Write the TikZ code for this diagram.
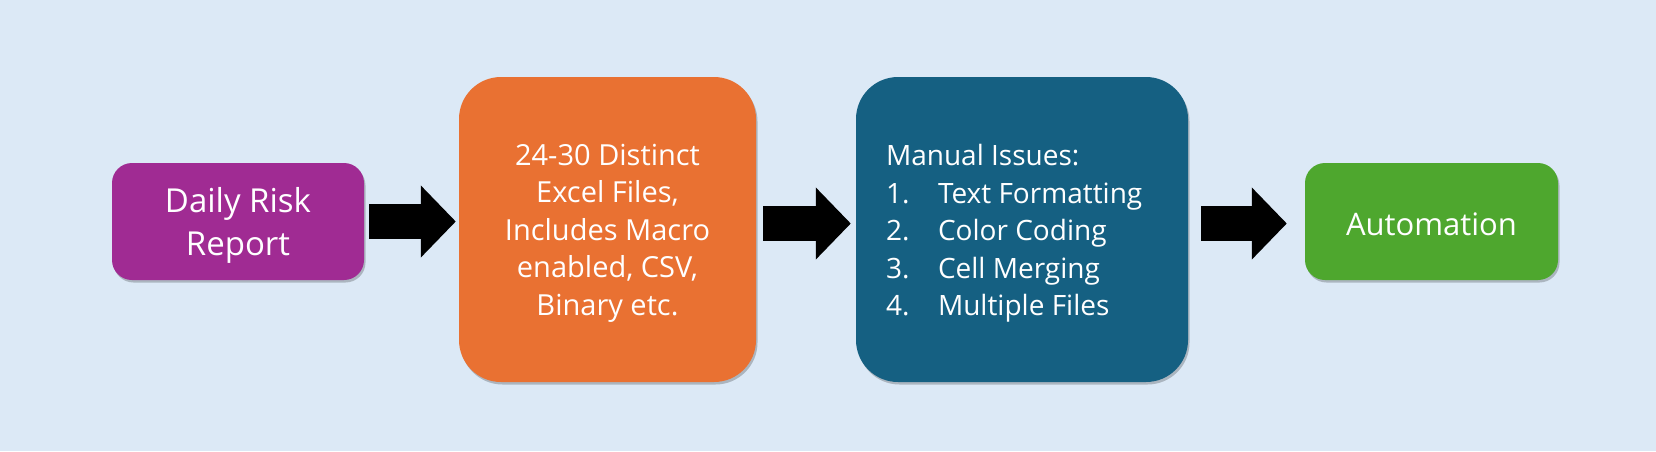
\documentclass[tikz,border=0pt]{standalone}
\usepackage{fontspec}
\setmainfont{Open Sans}
\usetikzlibrary{arrows.meta,shadows,calc}
\definecolor{bgc}{HTML}{DCE9F6}
\definecolor{cpurple}{HTML}{A02B93}
\definecolor{corange}{HTML}{E97132}
\definecolor{cblue}{HTML}{156082}
\definecolor{cgreen}{HTML}{4EA72E}
\tikzset{
  box/.style={rounded corners=#1, inner sep=0pt,
    drop shadow={shadow xshift=1.5pt, shadow yshift=-2.5pt, opacity=0.22, fill=black}},
  smallbox/.style={box=20pt, minimum width=252pt, minimum height=117pt},
  bigbox/.style={box=42pt, minimum width=#1, minimum height=305pt},
  label/.style={inner sep=0pt, text=white, align=center},
  bigarrow/.style={draw=black, line width=35pt, line cap=butt,
    -{Triangle[length=35pt,width=70pt]}},
}
\begin{document}
\begin{tikzpicture}[x=1pt,y=-1pt]
\fill[bgc] (0,0) rectangle (1656,451);
\useasboundingbox (0,0) rectangle (1656,451);
\node[smallbox, fill=cpurple] (p) at (238,221.5) {};
\node[label, font=\fontsize{33}{43}\selectfont] (pt) at ($(p.center)+(0,4)$) {Daily Risk\\Report};
\node[bigbox=297pt, fill=corange] (o) at (607.5,229.5) {};
\node[label, font=\fontsize{29}{37.5}\selectfont] (ot) at ($(o.center)+(0,3.5)$)
  {24-30 Distinct\\Excel Files,\\Includes Macro\\enabled, CSV,\\Binary etc.};
\node[bigbox=332pt, fill=cblue] (m) at (1022,229.5) {};
\node[label, anchor=west, align=left, font=\fontsize{28}{37.5}\selectfont] (mt) at ($(m.west)+(30,4)$)
  {Manual Issues:\\
   \makebox[52pt][l]{1.}Text Formatting\\
   \makebox[52pt][l]{2.}Color Coding\\
   \makebox[52pt][l]{3.}Cell Merging\\
   \makebox[52pt][l]{4.}Multiple Files};
\node[smallbox, minimum width=253pt, fill=cgreen] (g) at (1431.5,221.5) {};
\node[label, font=\fontsize{31}{40}\selectfont] (gt) at ($(g.center)+(0,2.5)$) {Automation};
\draw[bigarrow] ([xshift=5pt]p.east) -- ([xshift=-3pt]o.west |- p.east);
\draw[bigarrow] ([xshift=7pt,yshift=-2pt]o.east |- p.east) -- ([xshift=-5pt,yshift=-2pt]m.west |- p.east);
\draw[bigarrow] ([xshift=13pt,yshift=-2pt]m.east |- g.west) -- ([xshift=-18pt,yshift=-2pt]g.west);
\end{tikzpicture}
\end{document}
